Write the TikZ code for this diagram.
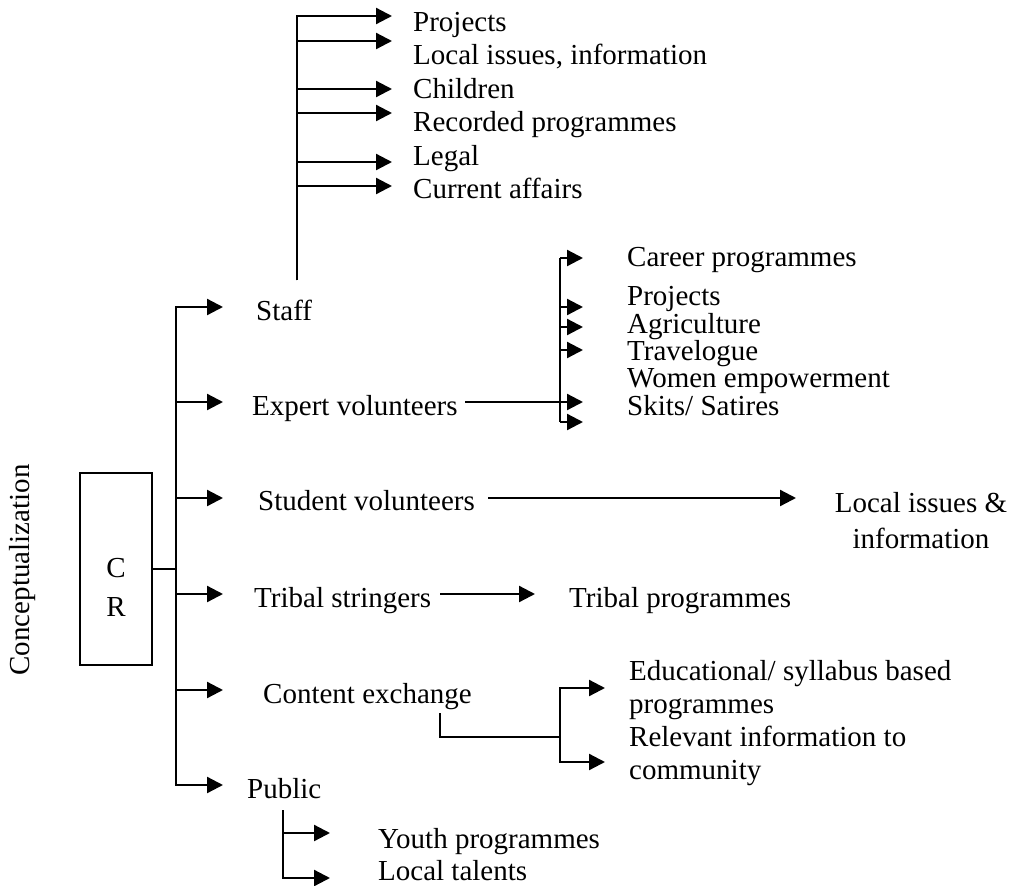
\documentclass[tikz,border=0pt]{standalone}
\usepackage{fontspec}
\setmainfont{Liberation Serif}
\usetikzlibrary{arrows.meta,positioning,calc}

\begin{document}
\begin{tikzpicture}[x=1pt,y=-1pt,
    txt/.style={anchor=base west, inner sep=0pt, font=\fontsize{29}{33}\selectfont},
    ctxt/.style={txt, anchor=base},
    arr/.style={line width=2.3pt, -{Triangle[length=16pt,width=16pt]}},
    bar/.style={line width=2.3pt},
    thin bar/.style={line width=1.3pt}]
    \useasboundingbox (0,0) rectangle (1010,886);

    % left side
    \node (concept) [font=\fontsize{29}{33}\selectfont, inner sep=0pt, rotate=90] at (23,570) {Conceptualization};
    \node (cr) [draw, line width=1.6pt, minimum width=72pt, minimum height=192pt, inner sep=0pt] at (116,569) {};
    \node (crc) [ctxt] at (116,577) {C};
    \node (crr) [ctxt] at (116,616) {R};
    \coordinate (hub) at (176,569);
    \draw[thin bar] (cr.east) -- (hub);

    % first level
    \node (staff) [txt] at (256,320) {Staff};
    \node (expert) [txt] at (252,415) {Expert volunteers};
    \node (student) [txt] at (258,510) {Student volunteers};
    \node (tribal) [txt] at (254,607) {Tribal stringers};
    \node (content) [txt] at (263,703) {Content exchange};
    \node (public) [txt] at (247,798) {Public};
    \foreach \n/\y in {staff/307, expert/402, student/498, tribal/594, content/690, public/785} {
        \coordinate (tip-\n) at (223,\y);
        \draw[arr] (hub) |- (tip-\n);
    }

    % staff
    \coordinate (staff-root) at (297,280);
    \foreach \t/\b [count=\i] in {Projects/31, {Local issues, information}/64, Children/98,
        Recorded programmes/131, Legal/165, Current affairs/198}
        \node (staff-\i) [txt] at (413,\b) {\t};
    \foreach \y [count=\i] in {16,41,89,113,162,186} {
        \coordinate (staff-tip\i) at (392,\y);
        \draw[arr] (staff-root) |- (staff-tip\i);
    }

    % expert volunteers
    \foreach \t/\b [count=\i] in {Career programmes/266, Projects/305, Agriculture/333,
        Travelogue/360, Women empowerment/387, {Skits/ Satires}/415}
        \node (exp-\i) [txt] at (627,\b) {\t};
    \coordinate (exp-top) at (560,258);
    \coordinate (exp-bot) at (560,422);
    \draw[bar] (exp-top) -- (exp-bot);
    \foreach \y [count=\i] in {258,307,327,350,422} {
        \coordinate (exp-tip\i) at (583,\y);
        \draw[arr] (exp-top |- exp-tip\i) -- (exp-tip\i);
    }
    \coordinate (exp-out) at (465,402);
    \coordinate (exp-in) at (583,402);
    \draw[arr] (exp-out) -- (exp-in);

    % student volunteers
    \node (local) [ctxt] at (921,512) {Local issues \&};
    \node (localb) [ctxt] at (921,548) {information};
    \coordinate (stu-out) at (488,498);
    \coordinate (stu-in) at (796,498);
    \draw[arr] (stu-out) -- (stu-in);

    % tribal stringers
    \node (tribprog) [txt] at (569,607) {Tribal programmes};
    \coordinate (trib-out) at (440,594);
    \coordinate (trib-in) at (535,594);
    \draw[arr] (trib-out) -- (trib-in);

    % content exchange
    \node (edu) [txt] at (629,680) {Educational/ syllabus based};
    \node (edub) [txt] at (629,713) {programmes};
    \node (rel) [txt] at (629,746) {Relevant information to};
    \node (relb) [txt] at (629,779) {community};
    \coordinate (con-out) at (440,713);
    \coordinate (con-mid) at (560,737);
    \draw[thin bar] (con-out) |- (con-mid);
    \coordinate (con-tip1) at (605,688);
    \coordinate (con-tip2) at (605,762);
    \draw[arr] (con-mid) |- (con-tip1);
    \draw[arr] (con-mid) |- (con-tip2);

    % public
    \node (youth) [txt] at (378,848) {Youth programmes};
    \node (talent) [txt] at (378,880) {Local talents};
    \coordinate (pub-root) at (283,810);
    \coordinate (pub-tip1) at (330,833);
    \coordinate (pub-tip2) at (330,878);
    \draw[arr] (pub-root) |- (pub-tip1);
    \draw[arr] (pub-root) |- (pub-tip2);
\end{tikzpicture}
\end{document}
